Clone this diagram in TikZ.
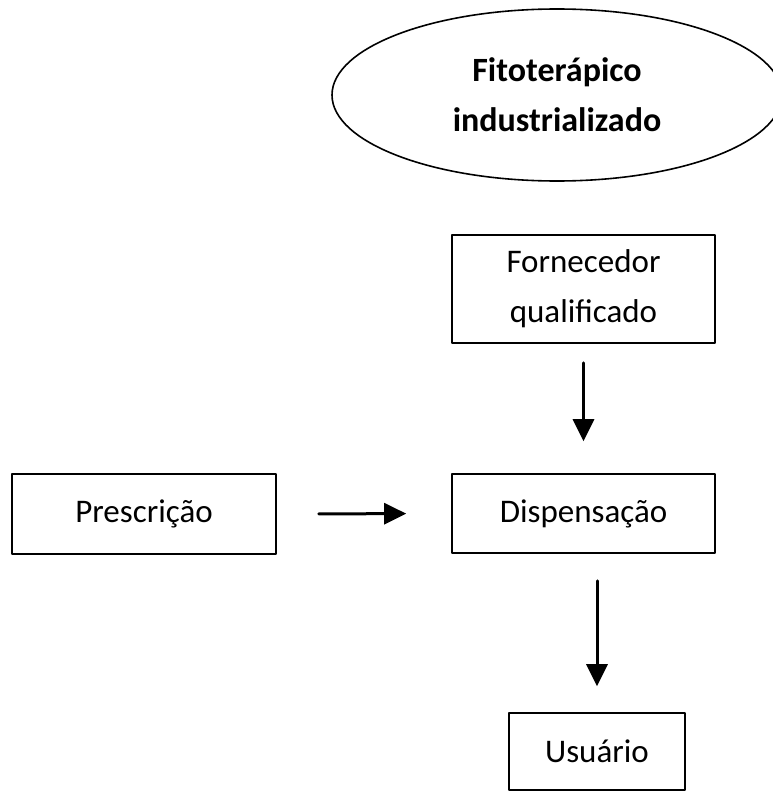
\documentclass[tikz,border=0pt]{standalone}
\usepackage{fontspec}
\setmainfont{Carlito}
\usetikzlibrary{shapes.geometric,arrows.meta}

\begin{document}
\begin{tikzpicture}[x=1pt, y=-1pt, line cap = round, line join = round,
		box/.style={draw, line width=1.6pt, inner sep=0pt, align=center,
			font=\fontsize{33}{50}\selectfont},
		oval/.style={draw, ellipse, line width=1.6pt, inner sep=0pt,
			minimum width=450pt, minimum height=172pt, align=center,
			font=\fontsize{34}{50}\selectfont\bfseries},
		arr/.style={line width=3pt, -{Triangle[length=22pt,width=21pt]}}]
		\useasboundingbox (0,0) rectangle (772,792);

		% Fitoterapico industrializado
		\node [oval] (fito) at (557,95) {Fitoter\'apico\\industrializado};

		% Fornecedor qualificado
		\node [box, minimum width=263pt, minimum height=108pt] (forn) at (583.5,289) {Fornecedor\\qualificado};
		% Dispensacao
		\node [box, minimum width=263pt, minimum height=79pt] (disp) at (583.5,513.5) {Dispensa\c{c}\~ao};
		% Prescricao
		\node [box, minimum width=264pt, minimum height=80pt] (presc) at (144,514) {Prescri\c{c}\~ao};
		% Usuario
		\node [box, minimum width=176pt, minimum height=77pt] (usr) at (597,751.5) {Usu\'ario};

		% arrows
		\draw [arr, shorten <=19pt, shorten >=32pt] (forn.south) -- (disp.north);
		\draw [arr, shorten <=42pt, shorten >=45pt] (presc.east) -- (disp.west);
		\draw [arr, shorten <=27pt, shorten >=26pt] (disp.south -| usr.north) -- (usr.north);
	\end{tikzpicture}
\end{document}
